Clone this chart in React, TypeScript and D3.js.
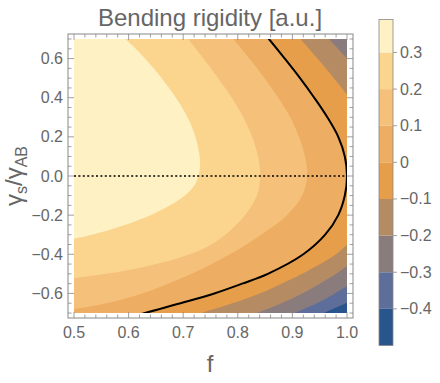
import React from 'react';
import * as d3 from 'd3';

const W = 440, H = 383;

// band edges of the colour legend and the fill of each band (low -> high)
const bandEdges = [-0.5, -0.4, -0.3, -0.2, -0.1, 0, 0.1, 0.2, 0.3, 0.39];
const bandColors = ['#28558c', '#5d6e9b', '#8a7c7d', '#b58b64', '#e69e4a', '#edad62', '#f5c17a', '#fbd58e', '#fef1c3'];

// contour lines as [f, γs/γAB]; the ends run past the frame
const cM04: [number, number][] = [[0.93, -0.75], [0.958, -0.7], [0.998, -0.65], [1.03, -0.6], [1.08, -0.5], [1.12, -0.4], [1.2, 0], [1.08, 0.75]];
const cM03: [number, number][] = [[0.875, -0.75], [0.905, -0.7], [0.945, -0.65], [0.978, -0.6], [1.008, -0.55], [1.035, -0.5], [1.075, -0.4], [1.13, -0.2], [1.15, 0], [1.12, 0.3], [1.06, 0.6], [1.02, 0.75]];
const cM02: [number, number][] = [[0.795, -0.75], [0.835, -0.7], [0.88, -0.65], [0.918, -0.6], [0.95, -0.55], [0.98, -0.5], [1.005, -0.45], [1.03, -0.4], [1.065, -0.3], [1.09, -0.2], [1.11, 0], [1.09, 0.2], [1.05, 0.4], [1.03, 0.5], [1.0, 0.6], [0.967, 0.7], [0.952, 0.75]];
const cM01: [number, number][] = [[0.68, -0.75], [0.733, -0.7], [0.79, -0.65], [0.84, -0.6], [0.88, -0.55], [0.918, -0.5], [0.98, -0.4], [1.0, -0.35], [1.02, -0.3], [1.044, -0.2], [1.056, -0.1], [1.06, 0], [1.056, 0.1], [1.044, 0.2], [1.026, 0.3], [1.004, 0.4], [0.976, 0.5], [0.946, 0.6], [0.915, 0.7], [0.9, 0.75]];
const c00: [number, number][] = [[0.57, -0.75], [0.63, -0.7], [0.695, -0.65], [0.757, -0.6], [0.808, -0.55], [0.855, -0.5], [0.92, -0.4], [0.96, -0.3], [0.984, -0.2], [0.996, -0.1], [1.0, 0], [0.996, 0.1], [0.984, 0.2], [0.964, 0.3], [0.94, 0.4], [0.914, 0.5], [0.886, 0.6], [0.857, 0.7], [0.842, 0.75]];
const c01: [number, number][] = [[0.44, -0.7], [0.5, -0.68], [0.56, -0.65], [0.625, -0.6], [0.69, -0.53], [0.745, -0.46], [0.81, -0.36], [0.853, -0.28], [0.89, -0.2], [0.918, -0.1], [0.927, 0], [0.923, 0.1], [0.912, 0.2], [0.896, 0.3], [0.874, 0.4], [0.849, 0.5], [0.821, 0.6], [0.792, 0.7], [0.778, 0.75]];
const c02: [number, number][] = [[0.43, -0.545], [0.5, -0.522], [0.6, -0.48], [0.69, -0.42], [0.745, -0.36], [0.777, -0.3], [0.813, -0.2], [0.835, -0.1], [0.841, 0], [0.837, 0.1], [0.826, 0.2], [0.81, 0.3], [0.789, 0.4], [0.764, 0.5], [0.737, 0.6], [0.709, 0.7], [0.695, 0.75]];
const c03: [number, number][] = [[0.4, -0.36], [0.48, -0.33], [0.533, -0.3], [0.593, -0.25], [0.64, -0.2], [0.676, -0.15], [0.703, -0.1], [0.72, -0.05], [0.728, 0], [0.731, 0.07], [0.727, 0.15], [0.716, 0.25], [0.698, 0.35], [0.674, 0.45], [0.646, 0.55], [0.613, 0.65], [0.594, 0.7], [0.575, 0.75]];
const contours = [cM04, cM03, cM02, cM01, c00, c01, c02, c03]; // levels -0.4 ... 0.3

const xTicks = [0.5, 0.6, 0.7, 0.8, 0.9, 1.0];
const yTicks = [-0.6, -0.4, -0.2, 0, 0.2, 0.4, 0.6];
const barTicks = [-0.4, -0.3, -0.2, -0.1, 0, 0.1, 0.2, 0.3];

const gray = '#666';
const frameCol = '#888';
const font = '"Liberation Sans", Arial, sans-serif';

export default function App() {
  // plot frame and data area
  const fr = { l: 68, r: 353, t: 34, b: 318 };
  const x = d3.scaleLinear().domain([0.5, 1]).range([74, 347]);
  const y = d3.scaleLinear().domain([-0.7, 0.7]).range([313, 39]);
  const cb = d3.scaleLinear().domain([-0.5, 0.39]).range([345.5, 19.5]);
  const cbX = 379, cbW = 14;

  const line = d3.line<[number, number]>()
    .x(d => x(d[0])).y(d => y(d[1]))
    .curve(d3.curveCatmullRom.alpha(0.5));
  // region above a level: the contour, closed round the far left outside the frame
  const region = (pts: [number, number][]) =>
    line(pts) + `L${x(0.3)},${y(0.9)}L${x(0.3)},${y(-0.9)}Z`;

  const fmt = d3.format('.1f');
  const xMinor = d3.range(0.5, 1.0001, 0.02);
  const yMinor = d3.range(-0.7, 0.7001, 0.05);

  return (
    <svg width={W} height={H} style={{ position: 'absolute', left: 0, top: 0 }} fontFamily={font}>
      <defs>
        <clipPath id="plotClip">
          <rect x={x(0.5)} y={y(0.7)} width={x(1) - x(0.5)} height={y(-0.7) - y(0.7)} />
        </clipPath>
      </defs>
      <rect width={W} height={H} fill="#fff" />
      <text x={210} y={26} textAnchor="middle" fontSize={24} fill={gray}>Bending rigidity [a.u.]</text>

      <g clipPath="url(#plotClip)">
        <rect x={x(0.5)} y={y(0.7)} width={x(1) - x(0.5)} height={y(-0.7) - y(0.7)} fill={bandColors[0]} />
        {contours.map((c, i) => (
          <path key={i} d={region(c)} fill={bandColors[i + 1]} />
        ))}
        <path d={line(c00) || ''} fill="none" stroke="#000" strokeWidth={2} />
        <line x1={x(0.5)} x2={x(1)} y1={y(0)} y2={y(0)} stroke="#000" strokeWidth={1.6} strokeDasharray="2 2.4" />
      </g>

      {/* frame */}
      <rect x={fr.l} y={fr.t} width={fr.r - fr.l} height={fr.b - fr.t} fill="none" stroke={frameCol} strokeWidth={1} />
      {xMinor.map((v, i) => {
        const major = xTicks.some(t => Math.abs(t - v) < 1e-6);
        const len = major ? 6 : 3.5;
        return (
          <g key={'xm' + i} stroke={frameCol} strokeWidth={0.8}>
            <line x1={x(v)} x2={x(v)} y1={fr.b} y2={fr.b - len} />
            <line x1={x(v)} x2={x(v)} y1={fr.t} y2={fr.t + len} />
          </g>
        );
      })}
      {yMinor.map((v, i) => {
        const major = yTicks.some(t => Math.abs(t - v) < 1e-6);
        const len = major ? 6 : 3.5;
        return (
          <g key={'ym' + i} stroke={frameCol} strokeWidth={0.8}>
            <line x1={fr.l} x2={fr.l + len} y1={y(v)} y2={y(v)} />
            <line x1={fr.r} x2={fr.r - len} y1={y(v)} y2={y(v)} />
          </g>
        );
      })}
      {xTicks.map(v => (
        <text key={'xt' + v} x={x(v)} y={338} textAnchor="middle" fontSize={16} fill={gray}>{fmt(v)}</text>
      ))}
      {yTicks.map(v => (
        <text key={'yt' + v} x={63} y={y(v) + 5.5} textAnchor="end" fontSize={16} fill={gray}>{fmt(v)}</text>
      ))}

      <text x={210} y={372} textAnchor="middle" fontSize={24} fill={gray}>f</text>
      <text transform={`translate(22,${y(0)}) rotate(-90)`} textAnchor="middle" fontSize={24} fill={gray}>
        γ<tspan fontSize={16} dy={5}>s</tspan><tspan dy={-5}>/γ</tspan><tspan fontSize={16} dy={5}>AB</tspan>
      </text>

      {/* colour legend */}
      {bandColors.map((c, i) => (
        <rect key={'cb' + i} x={cbX} width={cbW} y={cb(bandEdges[i + 1])} height={cb(bandEdges[i]) - cb(bandEdges[i + 1])} fill={c} />
      ))}
      <rect x={cbX} y={cb(0.39)} width={cbW} height={cb(-0.5) - cb(0.39)} fill="none" stroke={frameCol} strokeWidth={0.8} />
      {barTicks.map(v => (
        <g key={'bt' + v}>
          <line x1={cbX + cbW} x2={cbX + cbW + 4} y1={cb(v)} y2={cb(v)} stroke={frameCol} strokeWidth={0.8} />
          <text x={cbX + cbW + 7} y={cb(v) + 5.5} fontSize={16} fill={gray}>{v === 0 ? '0' : fmt(v)}</text>
        </g>
      ))}
    </svg>
  );
}
